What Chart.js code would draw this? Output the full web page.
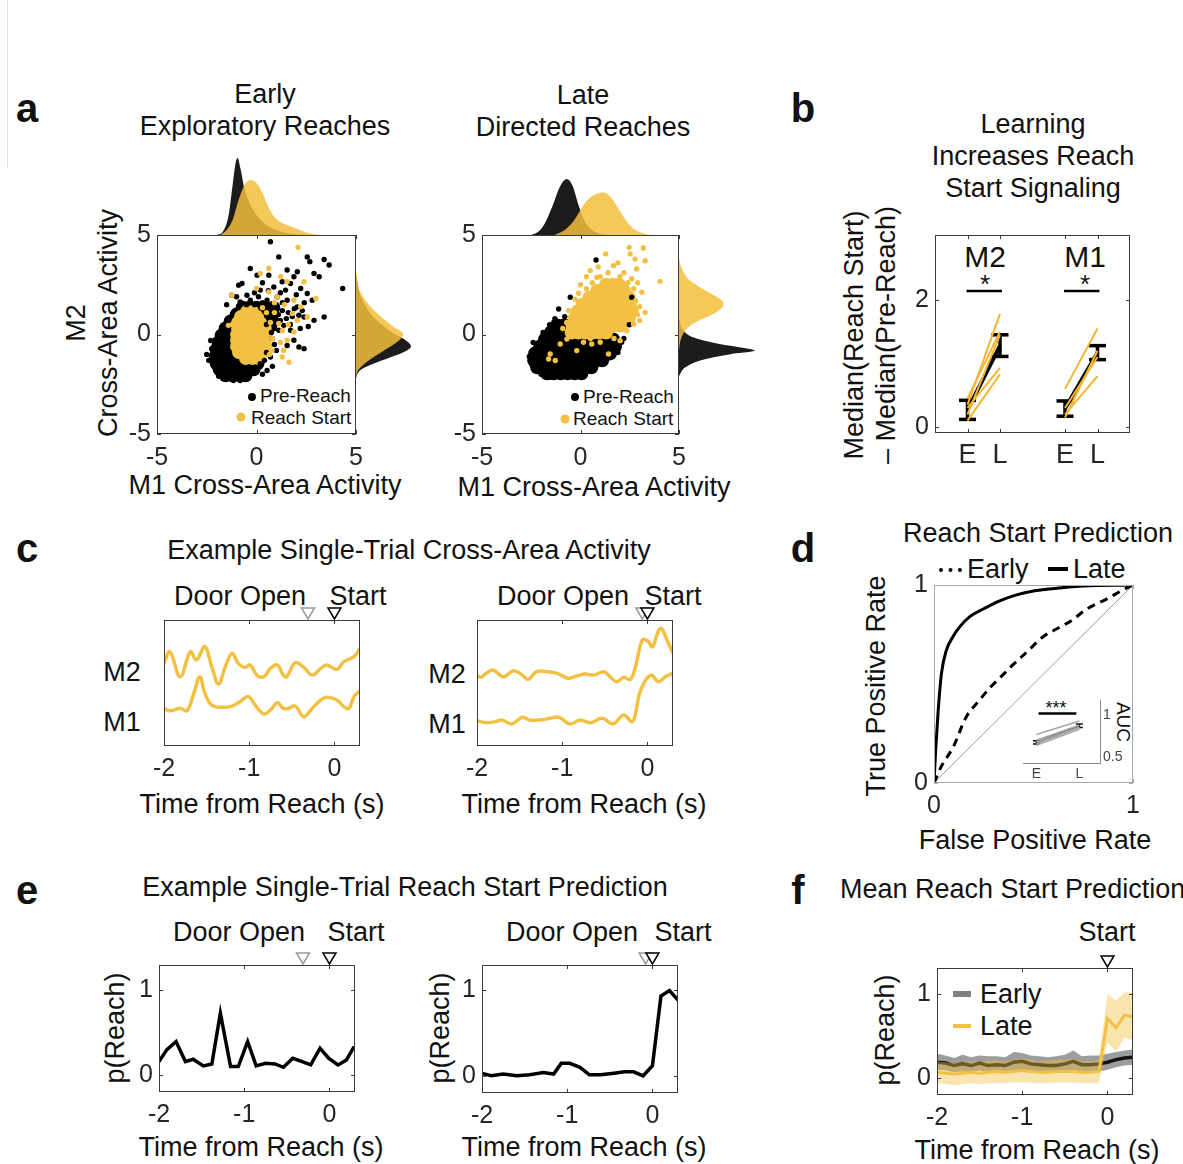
<!DOCTYPE html>
<html>
<head>
<meta charset="utf-8">
<title>Cross-area activity and reach start prediction</title>
<script src="https://cdn.jsdelivr.net/npm/chart.js@4.4.1/dist/chart.umd.min.js"></script>
<style>
  body { margin: 0; width: 1183px; height: 1164px; position: relative; overflow: hidden; background: #fff;
         font-family: "Liberation Sans", Arial, sans-serif; color: #111; }
  .t { position: absolute; white-space: nowrap; transform: translate(-50%, -50%); font-size: 27px; line-height: 32px; text-align: center; }
  .l { position: absolute; white-space: nowrap; transform: translateY(-50%); font-size: 27px; }
  .rot { transform: translate(-50%, -50%) rotate(-90deg); }
  .pl { position: absolute; font-weight: bold; font-size: 40px; transform: translate(-50%, -50%); }
  .dot { position: absolute; border-radius: 50%; transform: translate(-50%, -50%); }
  .box { position: absolute; }
</style>
</head>
<body>
<div style="position:absolute;left:7px;top:0;width:1px;height:168px;background:#e2e2e2"></div>

<!-- panel a -->
<div class="pl" style="left:27px;top:108px">a</div>
<div class="t" style="left:265px;top:110px">Early<br>Exploratory Reaches</div>
<div class="t" style="left:583px;top:111px">Late<br>Directed Reaches</div>
<div class="t rot" style="left:92px;top:323px">M2<br>Cross-Area Activity</div>
<div class="t" style="left:265px;top:485px">M1 Cross-Area Activity</div>
<div class="t" style="left:594px;top:487px">M1 Cross-Area Activity</div>
<div class="dot" style="left:252px;top:397px;width:8px;height:8px;background:#000"></div>
<div class="l" style="left:260px;top:396px;font-size:19px">Pre-Reach</div>
<div class="dot" style="left:241px;top:417px;width:9px;height:9px;background:#f2c144"></div>
<div class="l" style="left:251px;top:418px;font-size:19px">Reach Start</div>
<div class="dot" style="left:575px;top:397px;width:8px;height:8px;background:#000"></div>
<div class="l" style="left:583px;top:397px;font-size:19px">Pre-Reach</div>
<div class="dot" style="left:565px;top:419px;width:9px;height:9px;background:#f2c144"></div>
<div class="l" style="left:573px;top:419px;font-size:19px">Reach Start</div>

<!-- panel b -->
<div class="pl" style="left:803px;top:108px">b</div>
<div class="t" style="left:1033px;top:156px">Learning<br>Increases Reach<br>Start Signaling</div>
<div class="t rot" style="left:870px;top:335px">Median(Reach Start)<br>– Median(Pre-Reach)</div>
<div class="t" style="left:985px;top:257px;font-size:30px">M2</div>
<div class="t" style="left:1085px;top:257px;font-size:30px">M1</div>
<div class="t" style="left:985px;top:284px;font-size:26px">*</div>
<div class="t" style="left:1085px;top:284px;font-size:26px">*</div>

<!-- panel c -->
<div class="pl" style="left:27px;top:548px">c</div>
<div class="t" style="left:409px;top:550px">Example Single-Trial Cross-Area Activity</div>
<div class="t" style="left:240px;top:596px">Door Open</div>
<div class="t" style="left:358px;top:596px">Start</div>
<div class="t" style="left:563px;top:596px">Door Open</div>
<div class="t" style="left:673px;top:596px">Start</div>
<div class="t" style="left:122px;top:672px">M2</div>
<div class="t" style="left:122px;top:722px">M1</div>
<div class="t" style="left:447px;top:674px">M2</div>
<div class="t" style="left:447px;top:724px">M1</div>
<div class="t" style="left:262px;top:804px">Time from Reach (s)</div>
<div class="t" style="left:584px;top:804px">Time from Reach (s)</div>

<!-- panel d -->
<div class="pl" style="left:803px;top:548px">d</div>
<div class="t" style="left:1038px;top:533px">Reach Start Prediction</div>
<div style="position:absolute;left:939px;top:568px;width:23px;border-top:4px dotted #000"></div>
<div class="l" style="left:967px;top:569px">Early</div>
<div style="position:absolute;left:1048px;top:567px;width:20px;height:4px;background:#000"></div>
<div class="l" style="left:1073px;top:569px">Late</div>
<div class="t rot" style="left:876px;top:686px">True Positive Rate</div>
<div class="t" style="left:1035px;top:840px">False Positive Rate</div>
<div class="t" style="left:1123px;top:722px;font-size:19px;transform:translate(-50%,-50%) rotate(90deg)">AUC</div>
<div class="t" style="left:1056px;top:708px;font-size:18px">***</div>

<!-- panel e -->
<div class="pl" style="left:27px;top:890px">e</div>
<div class="t" style="left:405px;top:887px">Example Single-Trial Reach Start Prediction</div>
<div class="t" style="left:239px;top:932px">Door Open</div>
<div class="t" style="left:356px;top:932px">Start</div>
<div class="t" style="left:572px;top:932px">Door Open</div>
<div class="t" style="left:683px;top:932px">Start</div>
<div class="t rot" style="left:115px;top:1028px">p(Reach)</div>
<div class="t rot" style="left:440px;top:1028px">p(Reach)</div>
<div class="t" style="left:261px;top:1147px">Time from Reach (s)</div>
<div class="t" style="left:584px;top:1147px">Time from Reach (s)</div>

<!-- panel f -->
<div class="pl" style="left:798px;top:890px">f</div>
<div class="l" style="left:840px;top:889px">Mean Reach Start Prediction</div>
<div class="t" style="left:1107px;top:932px">Start</div>
<div class="t rot" style="left:885px;top:1030px">p(Reach)</div>
<div class="t" style="left:1037px;top:1150px">Time from Reach (s)</div>
<div style="position:absolute;left:953px;top:991px;width:18px;height:6px;background:#808080"></div>
<div class="l" style="left:980px;top:994px">Early</div>
<div style="position:absolute;left:953px;top:1024px;width:18px;height:4px;background:#f2c144"></div>
<div class="l" style="left:980px;top:1026px">Late</div>

<script>
const FONT = '"Liberation Sans", Arial, sans-serif';
const INK = '#262626';
const YELLOW = '#f2c144';

// ---- panel a: cross-area activity scatter (x = M1, y = M2) ----
const scatterTicks = [-5, 0, 5];

// dense cores, one row per M2 level: [M2, [M1 values]]
const earlyPreCoreRows = [
  [-2.05, [-1.55, -1.2, -0.85, -0.55]],
  [-1.75, [-1.85, -1.5, -1.15, -0.8, -0.45, -0.15]],
  [-1.45, [-2.0, -1.65, -1.3, -0.95, -0.6, -0.25, 0.05]],
  [-1.1, [-2.05, -1.7, -1.35, -1.0, -0.65, -0.3, 0.05]],
  [-0.75, [-2.0, -1.65, -1.3, -0.95, -0.6, -0.25, 0.1]],
  [-0.4, [-1.9, -1.55, -1.2, -0.85, -0.5, -0.15, 0.2]],
  [-0.05, [-1.75, -1.4, -1.05, -0.7, -0.35, 0.0, 0.35]],
  [0.3, [-1.55, -1.2, -0.85, -0.5, -0.15, 0.2, 0.55]],
  [0.65, [-1.3, -0.95, -0.6, -0.25, 0.1, 0.45, 0.8]],
  [1.0, [-1.0, -0.65, -0.3, 0.05, 0.4, 0.75]],
  [1.35, [-0.7, -0.35, 0.0, 0.4, 0.85]]
];
const earlyStartCoreRows = [
  [-1.2, [-0.55, -0.2, 0.1]],
  [-0.9, [-0.9, -0.6, -0.3, 0.0, 0.3]],
  [-0.6, [-1.0, -0.7, -0.4, -0.1, 0.2, 0.45]],
  [-0.3, [-1.0, -0.7, -0.4, -0.1, 0.2, 0.45]],
  [0.0, [-1.0, -0.7, -0.4, -0.1, 0.2, 0.45]],
  [0.3, [-0.95, -0.65, -0.35, -0.05, 0.25, 0.45]],
  [0.6, [-0.95, -0.65, -0.35, -0.05, 0.2]],
  [0.9, [-0.8, -0.5, -0.2, 0.05]],
  [1.15, [-0.5, -0.2]]
];
const latePreCoreRows = [
  [-1.95, [-1.7, -1.35, -1.0, -0.65, -0.3, 0.05]],
  [-1.65, [-2.2, -1.85, -1.5, -1.15, -0.8, -0.45, -0.1, 0.25, 0.55]],
  [-1.3, [-2.35, -2.0, -1.65, -1.3, -0.95, -0.6, -0.25, 0.1, 0.45, 0.8, 1.1]],
  [-0.95, [-2.3, -1.95, -1.6, -1.25, -0.9, -0.55, -0.2, 0.15, 0.5, 0.85, 1.2, 1.5]],
  [-0.6, [-2.05, -1.7, -1.35, -1.0, -0.65, -0.3, 0.05, 0.4, 0.75, 1.1, 1.45, 1.75]],
  [-0.25, [-1.8, -1.45, -1.1, -0.75, -0.4, -0.05, 0.3, 0.65, 1.0, 1.35, 1.65]],
  [0.1, [-1.5, -1.15, -0.8, -0.45, -0.1, 0.25]],
  [0.45, [-1.2, -0.85, -0.5]]
];
const lateStartCoreRows = [
  [0.1, [-0.45, -0.1, 0.25, 0.6, 0.95, 1.3]],
  [0.45, [-0.4, -0.05, 0.3, 0.65, 1.0, 1.35, 1.7, 2.05]],
  [0.8, [-0.3, 0.05, 0.4, 0.75, 1.1, 1.45, 1.8, 2.15, 2.45]],
  [1.15, [-0.15, 0.2, 0.55, 0.9, 1.25, 1.6, 1.95, 2.3, 2.6]],
  [1.5, [0.1, 0.45, 0.8, 1.15, 1.5, 1.85, 2.2, 2.5]],
  [1.85, [0.45, 0.8, 1.15, 1.5, 1.85, 2.2, 2.45]],
  [2.2, [0.85, 1.2, 1.55, 1.9, 2.2]],
  [2.5, [1.3, 1.65, 1.95]]
];

// sparse single trials [M1, M2]
const earlyPreDots = [
  [0.7, 4.66], [1.12, 3.9], [2.55, 3.9], [2.68, 3.66], [3.4, 3.77], [3.65, 3.49], [-0.31, 3.32], [0.03, 2.98],
  [0.62, 2.98], [1.54, 3.24], [1.88, 2.9], [2.05, 3.15], [2.89, 3.07], [3.15, 2.9], [4.33, 2.31], [-0.9, 2.48],
  [-0.73, 2.56], [-1.24, 1.97], [-0.48, 1.97], [0.19, 2.23], [0.87, 2.39], [1.29, 2.65], [1.46, 2.23], [1.71, 2.56],
  [2.22, 2.31], [2.55, 2.06], [2.8, 1.72], [3.4, 0.88], [2.89, 0.71], [2.39, 0.88], [2.13, 0.97], [2.05, 1.39],
  [1.54, 1.72], [1.04, 1.89], [0.53, 1.72], [-0.31, 1.72], [-0.82, 1.64], [2.39, -0.71], [2.13, -0.63], [1.54, -0.55],
  [1.88, -0.29], [1.12, 0.21], [1.37, 0.46], [1.71, 0.21], [-2.25, -0.71], [-2.17, -0.97], [-1.58, -2.23], [-1.16, -2.31],
  [-0.82, -2.31], [-0.31, -1.97], [0.19, -1.47], [0.7, -1.13], [0.53, -1.81], [1.3, 1.2], [0.9, 1.3], [1.8, 0.9],
  [1.0, 0.6], [2.4, 1.6], [0.3, 2.6], [-0.1, 2.1], [1.2, 2.1], [2.0, 2.0], [-1.0, 1.9], [-1.5, 1.5],
  [-2.4, -1.3], [-2.3, -0.3], [-1.9, -2.1], [0.5, -0.9], [0.9, -0.5], [0.8, -1.6], [0.3, -2.0], [-2.5, -1.0],
  [1.6, 1.1], [2.6, 0.4], [2.2, 0.3], [0.5, 0.5], [0.7, 0.9], [0.9, 0.3], [1.1, 1.0], [0.6, 1.4],
  [0.3, 1.6], [1.3, 1.6], [1.5, 0.8], [0.8, -0.2], [1.0, -0.8], [0.4, -1.3], [-0.1, 1.5], [-0.5, 1.5],
  [0.1, 1.9], [0.6, 2.2], [1.9, 1.3], [1.7, 0.5], [2.3, 1.2], [0.75, 0.1], [1.2, 0.7], [0.4, 1.15]
];
const earlyStartDots = [
  [2.09, 4.38], [0.62, 3.32], [0.19, 3.07], [1.21, 2.9], [1.54, 2.65], [2.39, 2.65], [-1.24, 1.97], [0.0, 2.31],
  [0.62, 2.14], [1.04, 1.89], [1.88, 1.72], [2.98, 1.81], [2.22, 1.39], [1.8, 1.05], [2.55, 0.88], [2.05, 0.71],
  [1.88, 0.13], [1.54, -0.29], [1.37, -0.8], [1.63, -1.39], [1.29, -1.13], [1.12, 0.55], [-1.41, 0.46], [0.78, -0.8],
  [1.4, 1.5], [0.9, 1.6], [1.3, 0.2], [1.6, 0.5], [1.2, -0.4], [0.9, 1.1], [0.7, 0.6], [0.8, -0.2],
  [0.65, -1.0], [-1.2, 0.5], [0.5, 1.1], [0.3, 1.35]
];
const latePreDots = [
  [0.79, 3.74], [-0.52, 1.87], [-1.11, 1.28], [-1.57, 0.49], [2.48, 0.49], [2.6, 1.87], [-2.3, -0.73], [-2.47, -1.48],
  [2.09, -0.39], [1.84, -0.64], [1.33, -1.01], [0.35, -1.82], [-1.54, -2.15], [-1.03, -1.98], [-2.6, -1.1], [-2.0, -2.0],
  [0.7, -1.6], [1.0, -1.3], [1.9, -0.9], [2.2, -0.2], [-1.9, 0.1], [-1.3, 0.8], [-0.8, 0.9], [-2.4, -0.4]
];
const lateStartDots = [
  [2.47, 4.38], [3.19, 4.35], [1.28, 4.05], [2.52, 4.05], [2.77, 3.79], [3.28, 3.71], [1.67, 3.46], [2.85, 3.29],
  [4.04, 2.67], [3.11, 2.12], [3.28, 1.11], [2.69, 0.53], [2.35, 0.19], [2.01, -0.31], [1.42, -0.98], [-0.1, 2.07],
  [-0.27, 1.78], [-1.54, -0.98], [-1.28, -1.31], [-1.62, -1.23], [-1.03, -0.48], [-0.69, -0.23], [-0.19, -0.81], [0.15, -0.39],
  [0.57, -0.48], [1.0, -0.39], [-0.52, 0.11], [0.49, 3.21], [0.83, 2.87], [0.3, 2.9], [0.0, 2.5], [2.9, 2.6],
  [3.0, 0.7], [2.2, 3.1], [1.9, 3.6], [0.9, 3.4], [0.6, 2.6], [0.3, 2.3], [2.7, 2.3], [2.8, 1.7],
  [2.6, 2.8], [1.0, 2.9], [1.4, 3.1], [2.0, 2.9], [3.0, 1.4], [2.9, 1.0], [-0.6, 1.2], [-0.7, 0.6],
  [-0.9, 0.3], [1.7, -0.2], [0.5, -0.2], [2.4, 2.6]
];

// marginal densities: top = [M1, density], right = [M2, density]
const earlyTopPre = [[-2.0, 0], [-1.7, 3], [-1.4, 20], [-1.2, 50], [-1.05, 72], [-0.95, 77], [-0.8, 66], [-0.6, 46], [-0.3, 30], [0, 20], [0.5, 10], [1, 5], [1.5, 2], [2.5, 0]];
const earlyTopStart = [[-1.8, 0], [-1.5, 5], [-1.2, 15], [-0.9, 35], [-0.6, 50], [-0.3, 55], [0, 52], [0.3, 42], [0.6, 28], [0.9, 18], [1.3, 12], [1.8, 8], [2.3, 4], [2.8, 1], [3.2, 0]];
const earlyRightPre = [[3.0, 0], [2.0, 4], [1.5, 9], [0.9, 17], [0.4, 28], [0.05, 38], [-0.3, 50], [-0.6, 55], [-0.85, 49], [-1.15, 34], [-1.5, 16], [-1.85, 3], [-2.2, 0]];
const earlyRightStart = [[3.2, 0], [2.3, 3], [1.55, 12], [0.9, 25], [0.4, 37], [0.05, 47], [-0.3, 43], [-0.8, 28], [-1.3, 13], [-1.8, 2], [-2.2, 0]];
const lateTopPre = [[-2.5, 0], [-2.1, 4], [-1.8, 12], [-1.4, 30], [-1.05, 48], [-0.7, 56], [-0.4, 49], [-0.1, 30], [0.2, 14], [0.6, 5], [1.0, 1], [1.5, 0]];
const lateTopStart = [[-1.3, 0], [-0.8, 5], [-0.35, 14], [0.0, 25], [0.35, 35], [0.8, 41], [1.2, 42.5], [1.6, 36], [2.0, 24], [2.4, 12], [2.8, 5], [3.3, 1], [3.8, 0]];
const lateRightPre = [[0.8, 0], [0.3, 3], [-0.1, 12], [-0.45, 38], [-0.7, 68], [-0.82, 76], [-1.0, 50], [-1.3, 22], [-1.7, 5], [-2.1, 0]];
const lateRightStart = [[3.8, 0], [3.3, 3], [2.8, 9], [2.4, 20], [2.0, 34], [1.65, 44], [1.35, 43], [1.0, 33], [0.65, 18], [0.3, 8], [-0.2, 2], [-0.8, 0]];

// ---- panel b ----
const bPos = [1, 2, 4, 5];
const bLabels = ['E', 'L', 'E', 'L'];
const bTicksY = [0, 2];
const m2Animals = [[0.35, 1.78], [0.45, 1.5], [0.3, 0.93], [0.1, 0.83], [0.2, 1.45]];
const m1Animals = [[0.6, 1.55], [0.2, 0.8], [0.15, 1.2], [0.3, 1.1]];
const m2Mean = [0.27, 1.28], m2Sem = [0.15, 0.17];
const m1Mean = [0.29, 1.17], m1Sem = [0.12, 0.11];
const bSigLevel = 2.14;

// ---- panel c: single-trial cross-area activity [time, a.u.] ----
const timeTicks = [-2, -1, 0];
const cLeftM2 = [[-2.0, 0.656], [-1.93, 0.748], [-1.81, 0.55], [-1.69, 0.748], [-1.62, 0.683], [-1.52, 0.788], [-1.44, 0.63], [-1.36, 0.492], [-1.28, 0.63], [-1.2, 0.735], [-1.13, 0.656], [-1.05, 0.624], [-0.99, 0.643], [-0.91, 0.563], [-0.83, 0.55], [-0.75, 0.616], [-0.67, 0.643], [-0.6, 0.563], [-0.56, 0.55], [-0.46, 0.661], [-0.36, 0.624], [-0.26, 0.563], [-0.16, 0.616], [-0.09, 0.643], [0.03, 0.608], [0.11, 0.669], [0.23, 0.709], [0.3, 0.775]];
const cLeftM1 = [[-2.0, 0.299], [-1.93, 0.28], [-1.81, 0.299], [-1.73, 0.28], [-1.65, 0.418], [-1.58, 0.55], [-1.52, 0.418], [-1.44, 0.325], [-1.32, 0.307], [-1.2, 0.317], [-1.11, 0.352], [-1.01, 0.392], [-0.93, 0.325], [-0.83, 0.254], [-0.75, 0.286], [-0.67, 0.344], [-0.6, 0.299], [-0.54, 0.299], [-0.46, 0.317], [-0.36, 0.233], [-0.26, 0.299], [-0.16, 0.365], [-0.09, 0.386], [0.03, 0.365], [0.11, 0.312], [0.17, 0.299], [0.23, 0.392], [0.3, 0.439]];
const cRightM2 = [[-2.0, 0.563], [-1.96, 0.545], [-1.89, 0.577], [-1.81, 0.603], [-1.69, 0.55], [-1.57, 0.598], [-1.47, 0.563], [-1.4, 0.529], [-1.3, 0.59], [-1.18, 0.59], [-1.06, 0.577], [-0.93, 0.537], [-0.83, 0.556], [-0.73, 0.571], [-0.63, 0.563], [-0.51, 0.59], [-0.44, 0.55], [-0.36, 0.51], [-0.28, 0.545], [-0.2, 0.529], [-0.14, 0.63], [-0.06, 0.841], [0.0, 0.836], [0.06, 0.788], [0.11, 0.881], [0.16, 0.934], [0.23, 0.841], [0.3, 0.735]];
const cRightM1 = [[-2.0, 0.201], [-1.89, 0.185], [-1.79, 0.193], [-1.71, 0.206], [-1.59, 0.175], [-1.47, 0.228], [-1.38, 0.206], [-1.26, 0.206], [-1.14, 0.22], [-1.04, 0.228], [-0.91, 0.175], [-0.79, 0.206], [-0.67, 0.185], [-0.53, 0.22], [-0.4, 0.175], [-0.28, 0.246], [-0.18, 0.193], [-0.14, 0.259], [-0.08, 0.444], [0.04, 0.563], [0.13, 0.51], [0.21, 0.55], [0.3, 0.577]];
const cLeftEvents = [-0.31, 0], cRightEvents = [-0.06, 0];

// ---- panel d: ROC [false positive rate, true positive rate] ----
const rocTicks = [0, 1];
const rocLate = [[0, 0], [0.008, 0.16], [0.02, 0.35], [0.037, 0.55], [0.062, 0.67], [0.096, 0.74], [0.13, 0.79], [0.18, 0.84], [0.25, 0.88], [0.33, 0.92], [0.415, 0.95], [0.5, 0.97], [0.58, 0.98], [0.75, 0.995], [1, 1]];
const rocEarly = [[0, 0], [0.04, 0.09], [0.096, 0.18], [0.16, 0.33], [0.23, 0.42], [0.28, 0.48], [0.33, 0.53], [0.4, 0.6], [0.465, 0.66], [0.55, 0.74], [0.62, 0.78], [0.69, 0.82], [0.77, 0.88], [0.87, 0.93], [0.95, 0.975], [1, 1]];
const aucPos = [1, 2], aucLabels = ['E', 'L'], aucTicks = [0.5, 1];
const aucAnimals = [[0.77, 0.93], [0.66, 0.85], [0.64, 0.83], [0.7, 0.88], [0.68, 0.86]];
const aucMean = [0.675, 0.873], aucSem = [0.02, 0.02];
const aucSigLevel = 1.02;

// ---- panel e: single-trial p(Reach) [time, p] ----
const pTicks = [0, 1];
const eLeft = [[-2.0, 0.157], [-1.91, 0.294], [-1.8, 0.392], [-1.69, 0.157], [-1.6, 0.184], [-1.48, 0.106], [-1.38, 0.129], [-1.28, 0.725], [-1.16, 0.098], [-1.07, 0.098], [-0.96, 0.392], [-0.86, 0.106], [-0.75, 0.137], [-0.64, 0.129], [-0.54, 0.09], [-0.43, 0.196], [-0.32, 0.157], [-0.22, 0.118], [-0.11, 0.314], [-0.01, 0.196], [0.1, 0.118], [0.2, 0.176], [0.29, 0.333]];
const eRight = [[-2.0, 0.027], [-1.89, 0], [-1.75, 0.02], [-1.59, 0], [-1.44, 0.012], [-1.28, 0.039], [-1.16, 0.02], [-1.07, 0.145], [-0.97, 0.145], [-0.85, 0.098], [-0.74, 0.012], [-0.61, 0.012], [-0.45, 0.031], [-0.33, 0.047], [-0.22, 0.047], [-0.11, 0], [0.0, 0.118], [0.1, 0.929], [0.2, 0.992], [0.3, 0.882]];
const eLeftEvents = [-0.31, 0], eRightEvents = [-0.08, 0];

// ---- panel f: mean p(Reach) with spread ----
const fTime = [-2.0, -1.9, -1.8, -1.7, -1.6, -1.5, -1.4, -1.3, -1.2, -1.1, -1.0, -0.9, -0.8, -0.7, -0.6, -0.5, -0.4, -0.3, -0.2, -0.1, 0.0, 0.1, 0.2, 0.3];
const fEarlyMean = [0.19, 0.18, 0.15, 0.17, 0.15, 0.18, 0.15, 0.16, 0.15, 0.19, 0.2, 0.17, 0.16, 0.15, 0.15, 0.17, 0.2, 0.16, 0.16, 0.17, 0.19, 0.22, 0.24, 0.25];
const fEarlyHi = [0.29, 0.27, 0.24, 0.28, 0.25, 0.27, 0.26, 0.26, 0.25, 0.31, 0.3, 0.27, 0.26, 0.25, 0.26, 0.28, 0.33, 0.26, 0.27, 0.27, 0.29, 0.31, 0.33, 0.34];
const fEarlyLo = [0.1, 0.09, 0.07, 0.08, 0.07, 0.09, 0.07, 0.08, 0.07, 0.09, 0.1, 0.08, 0.08, 0.07, 0.07, 0.08, 0.1, 0.07, 0.08, 0.08, 0.1, 0.13, 0.15, 0.16];
const fLateMean = [0.07, 0.06, 0.05, 0.06, 0.07, 0.06, 0.07, 0.08, 0.07, 0.08, 0.09, 0.08, 0.07, 0.07, 0.08, 0.08, 0.08, 0.07, 0.07, 0.08, 0.71, 0.6, 0.75, 0.73];
const fLateHi = [0.2, 0.19, 0.18, 0.19, 0.2, 0.2, 0.21, 0.22, 0.2, 0.22, 0.24, 0.22, 0.2, 0.21, 0.22, 0.22, 0.23, 0.2, 0.2, 0.22, 1.0, 0.92, 1.02, 1.02];
const fLateLo = [-0.06, -0.07, -0.08, -0.07, -0.06, -0.07, -0.06, -0.06, -0.06, -0.05, -0.05, -0.05, -0.06, -0.06, -0.05, -0.05, -0.05, -0.06, -0.06, -0.06, 0.42, 0.32, 0.48, 0.45];
const fEvents = [0];

// ---------- helpers ----------
const pts = a => a.map(([x, y]) => ({ x, y }));
const flip = a => a.map(([y, x]) => ({ x, y }));
const rows = r => r.flatMap(([y, xs]) => xs.map(x => ({ x, y })));
const series = (xs, ys) => xs.map((x, i) => ({ x, y: ys[i] }));

// box around the axes with inward ticks, MATLAB style
const boxPlugin = {
  id: 'mbox',
  afterDraw(chart, args, o) {
    if (!o || !o.on) return;
    const { ctx, chartArea: a } = chart;
    ctx.save();
    ctx.strokeStyle = o.color || '#3a3a3a';
    ctx.lineWidth = 1;
    ctx.strokeRect(Math.round(a.left) + 0.5, Math.round(a.top) + 0.5, Math.round(a.width) - 1, Math.round(a.height) - 1);
    const len = 4;
    ctx.beginPath();
    for (const s of Object.values(chart.scales)) {
      if (s.options.display === false) continue;
      for (const t of s.ticks) {
        const p = Math.round(s.getPixelForValue(t.value)) + 0.5;
        if (s.isHorizontal()) {
          ctx.moveTo(p, a.bottom); ctx.lineTo(p, a.bottom - len);
          ctx.moveTo(p, a.top); ctx.lineTo(p, a.top + len);
        } else {
          ctx.moveTo(a.left, p); ctx.lineTo(a.left + len, p);
          ctx.moveTo(a.right, p); ctx.lineTo(a.right - len, p);
        }
      }
    }
    ctx.stroke();
    ctx.restore();
  }
};

// open triangles above the axes for door open / reach start
const markPlugin = {
  id: 'marks',
  afterDraw(chart, args, o) {
    if (!o || !o.times) return;
    const { ctx, chartArea: a } = chart;
    const x = chart.scales.x;
    o.times.forEach((t, i) => {
      const px = x.getPixelForValue(t);
      ctx.beginPath();
      ctx.moveTo(px - 6.5, a.top - 12);
      ctx.lineTo(px + 6.5, a.top - 12);
      ctx.lineTo(px, a.top - 1);
      ctx.closePath();
      ctx.fillStyle = '#fff';
      ctx.fill();
      ctx.lineWidth = 1.5;
      ctx.strokeStyle = o.colors[i];
      ctx.stroke();
    });
  }
};
Chart.register(boxPlugin, markPlugin);

function axis(position, min, max, ticks, size, tickOpts) {
  const horiz = position === 'top' || position === 'bottom';
  return {
    type: 'linear', position, min, max,
    afterBuildTicks: s => { s.ticks = ticks.map(v => ({ value: v })); },
    afterFit: s => {
      if (horiz) s.height = size; else s.width = size;
      s.paddingLeft = s.paddingRight = s.paddingTop = s.paddingBottom = 0;
    },
    grid: { display: false, drawTicks: false },
    border: { display: false },
    ticks: Object.assign({ font: { family: FONT, size: 25 }, color: INK, padding: 6, maxRotation: 0, autoSkip: false,
      callback: v => String(v) }, tickOpts)
  };
}
const hidden = (min, max) => ({ type: 'linear', display: false, min, max });

// box = chart area [left, top, width, height]; m = margins [top, right, bottom, left]
function makeChart(box, m, type, datasets, scales, plugins, extra) {
  const [x, y, w, h] = box;
  const [mt, mr, mb, ml] = m;
  const wrap = document.createElement('div');
  wrap.className = 'box';
  wrap.style.left = (x - ml) + 'px';
  wrap.style.top = (y - mt) + 'px';
  const cv = document.createElement('canvas');
  cv.width = w + ml + mr;
  cv.height = h + mt + mb;
  cv.style.width = cv.width + 'px';
  cv.style.height = cv.height + 'px';
  wrap.appendChild(cv);
  document.body.appendChild(wrap);
  const used = Object.values(scales).filter(s => s.display !== false).map(s => s.position);
  return new Chart(cv, {
    type,
    data: { datasets },
    options: Object.assign({
      responsive: false, animation: false, events: [],
      layout: { padding: {
        top: mt,
        right: used.includes('right') ? 0 : mr,
        bottom: used.includes('bottom') ? 0 : mb,
        left: used.includes('left') ? 0 : ml
      } },
      scales,
      plugins: Object.assign({ legend: { display: false }, tooltip: { enabled: false } }, plugins)
    }, extra)
  });
}

const lineDs = (data, color, width, more) => Object.assign({
  data, borderColor: color, borderWidth: width, pointRadius: 0, fill: false, tension: 0
}, more);

// ---------- panel a ----------
function scatterPanel(box, preCore, preDots, startCore, startDots, coreR) {
  const dots = (data, color, r, order) => ({
    data, pointBackgroundColor: color, pointBorderWidth: 0, pointRadius: r, order
  });
  makeChart(box, [15, 15, 40, 45], 'scatter', [
    dots(pts(startDots), YELLOW, 2.7, 1),
    dots(pts(preDots), '#000', 2.7, 2),
    dots(rows(startCore), YELLOW, coreR, 3),
    dots(rows(preCore), '#000', 7, 4)
  ], {
    x: axis('bottom', -5, 5, scatterTicks, 40, { padding: 9 }),
    y: axis('left', -5, 5, scatterTicks, 45)
  }, { mbox: { on: true } });
}

function topKde(box, pre, start) {
  const area = (data, color, order) => ({
    data: pts(data), fill: 'origin', backgroundColor: color, borderWidth: 0, pointRadius: 0,
    cubicInterpolationMode: 'monotone', order
  });
  makeChart(box, [0, 0, 0, 0], 'line', [
    area(start, 'rgba(242,190,60,0.85)', 1),
    area(pre, '#1c1c1c', 2)
  ], { x: hidden(-5, 5), y: hidden(0, 85) });
}

function rightKde(box, pre, start) {
  const area = (data, color, order) => ({
    data: flip(data), fill: 'origin', backgroundColor: color, borderWidth: 0, pointRadius: 0,
    tension: 0.35, order
  });
  makeChart(box, [0, 0, 0, 0], 'line', [
    area(start, 'rgba(242,190,60,0.85)', 1),
    area(pre, '#1c1c1c', 2)
  ], { x: hidden(0, 85), y: hidden(-5, 5) }, {}, { indexAxis: 'y' });
}

topKde([157, 150, 199, 85], earlyTopPre, earlyTopStart);
rightKde([356, 235, 85, 199], earlyRightPre, earlyRightStart);
scatterPanel([157, 235, 199, 199], earlyPreCoreRows, earlyPreDots, earlyStartCoreRows, earlyStartDots, 6.5);

topKde([482, 150, 197, 85], lateTopPre, lateTopStart);
rightKde([679, 235, 85, 199], lateRightPre, lateRightStart);
scatterPanel([482, 235, 197, 199], latePreCoreRows, latePreDots, lateStartCoreRows, lateStartDots, 7);

// ---------- panel b ----------
(function () {
  const ds = [];
  m2Animals.forEach(a => ds.push(lineDs(series(bPos.slice(0, 2), a), '#f2b631', 2)));
  m1Animals.forEach(a => ds.push(lineDs(series(bPos.slice(2, 4), a), '#f2b631', 2)));
  const groups = [[bPos.slice(0, 2), m2Mean, m2Sem], [bPos.slice(2, 4), m1Mean, m1Sem]];
  groups.forEach(([xs, mean, sem]) => {
    ds.push(lineDs(series(xs, mean), '#000', 4));
    xs.forEach((x, i) => ds.push(lineDs([{ x, y: mean[i] - sem[i] }, { x, y: mean[i] + sem[i] }], '#000', 3.5, {
      pointStyle: 'line', pointRadius: 8.5, pointBorderWidth: 3.5, pointBorderColor: '#000'
    })));
    ds.push(lineDs([{ x: xs[0] - 0.03, y: bSigLevel }, { x: xs[1] + 0.06, y: bSigLevel }], '#000', 2.5));
  });
  makeChart([935, 235, 197, 198], [15, 10, 40, 35], 'line', ds, {
    x: axis('bottom', 0, 6, bPos, 40, { padding: 6, font: { family: FONT, size: 27 },
      callback: v => bLabels[bPos.indexOf(v)] }),
    y: axis('left', -0.094, 3.02, bTicksY, 35)
  }, { mbox: { on: true } });
})();

// ---------- panel c ----------
function activityPanel(box, m2, m1, events) {
  makeChart(box, [16, 10, 40, 10], 'line', [
    lineDs(pts(m2), YELLOW, 3.5, { tension: 0.4 }),
    lineDs(pts(m1), YELLOW, 3.5, { tension: 0.4 })
  ], {
    x: axis('bottom', -2, 0.3, timeTicks, 40, { padding: 8 }),
    y: hidden(0, 1)
  }, { mbox: { on: true }, marks: { times: events, colors: ['#9a9a9a', '#000'] } });
}
activityPanel([164, 620, 196, 126], cLeftM2, cLeftM1, cLeftEvents);
activityPanel([477, 620, 196, 126], cRightM2, cRightM1, cRightEvents);

// ---------- panel d ----------
makeChart([934, 585, 199, 198], [16, 15, 40, 30], 'line', [
  lineDs([{ x: 0, y: 0 }, { x: 1, y: 1 }], '#9a9a9a', 1, { order: 3 }),
  lineDs(pts(rocEarly), '#000', 3, { borderDash: [8, 6], cubicInterpolationMode: 'monotone', order: 2 }),
  lineDs(pts(rocLate), '#000', 3, { cubicInterpolationMode: 'monotone', order: 1 })
], {
  x: axis('bottom', 0, 1, rocTicks, 40, { padding: 8 }),
  y: axis('left', 0, 1, rocTicks, 30)
}, { mbox: { on: true, color: '#a8a8a8' } });

// inset: AUC per animal
(function () {
  const ds = aucAnimals.map(a => lineDs(series(aucPos, a), '#a6a6a6', 1.5));
  ds.push(lineDs(series(aucPos, aucMean), '#111', 2));
  aucPos.forEach((x, i) => ds.push(lineDs([{ x, y: aucMean[i] - aucSem[i] }, { x, y: aucMean[i] + aucSem[i] }], '#111', 1.5, {
    pointStyle: 'line', pointRadius: 3.5, pointBorderWidth: 1.5, pointBorderColor: '#111'
  })));
  ds.push(lineDs([{ x: 1.05, y: aucSigLevel }, { x: 1.93, y: aucSigLevel }], '#000', 2.5));
  const small = { font: { family: FONT, size: 14 }, color: '#444', padding: 3 };
  const xs = axis('bottom', 0.7, 2.48, aucPos, 20, Object.assign({}, small, { callback: v => aucLabels[aucPos.indexOf(v)] }));
  const ys = axis('right', 0.43, 1.18, aucTicks, 30, small);
  xs.border = { display: true, color: '#8a8a8a', width: 1 };
  ys.border = { display: true, color: '#8a8a8a', width: 1 };
  makeChart([1022, 700, 78, 63], [8, 30, 20, 4], 'line', ds, { x: xs, y: ys });
})();

// ---------- panel e ----------
function predictionPanel(box, data, events) {
  makeChart(box, [16, 10, 40, 30], 'line', [
    lineDs(pts(data), '#000', 3.5)
  ], {
    x: axis('bottom', -2, 0.3, timeTicks, 40, { padding: 8 }),
    y: axis('left', -0.2, 1.29, pTicks, 30)
  }, { mbox: { on: true }, marks: { times: events, colors: ['#9a9a9a', '#000'] } });
}
predictionPanel([159, 965, 196, 127], eLeft, eLeftEvents);
predictionPanel([482, 965, 196, 128], eRight, eRightEvents);

// ---------- panel f ----------
makeChart([937, 968, 196, 127], [16, 10, 40, 30], 'line', [
  lineDs(series(fTime, fEarlyHi), 'rgba(0,0,0,0)', 0, { order: 5 }),
  lineDs(series(fTime, fEarlyLo), 'rgba(0,0,0,0)', 0, { fill: '-1', backgroundColor: 'rgba(110,110,110,0.68)', order: 5 }),
  lineDs(series(fTime, fEarlyMean), '#111', 3.5, { order: 4 }),
  lineDs(series(fTime, fLateHi), 'rgba(0,0,0,0)', 0, { order: 3 }),
  lineDs(series(fTime, fLateLo), 'rgba(0,0,0,0)', 0, { fill: '-1', backgroundColor: 'rgba(242,190,60,0.42)', order: 3 }),
  lineDs(series(fTime, fLateMean), YELLOW, 3, { order: 1 })
], {
  x: axis('bottom', -2, 0.3, timeTicks, 40, { padding: 8 }),
  y: axis('left', -0.2, 1.31, pTicks, 30)
}, { mbox: { on: true }, marks: { times: fEvents, colors: ['#000'] } });
</script>
</body>
</html>
